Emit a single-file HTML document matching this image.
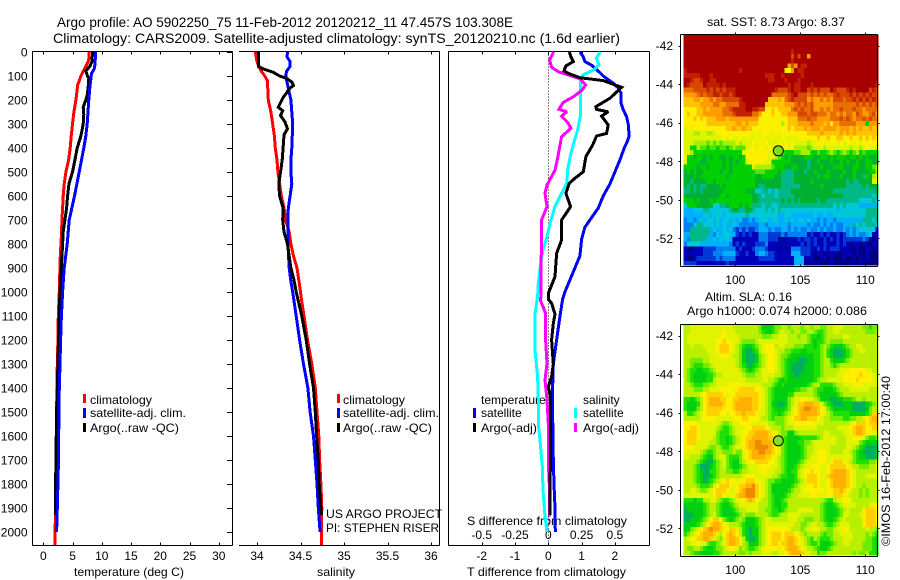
<!DOCTYPE html>
<html lang="en">
<head>
<meta charset="utf-8">
<title>Argo profile chart</title>
<style>
html,body{margin:0;padding:0;background:#fff;}
svg{display:block;}
text{font-family:"Liberation Sans",sans-serif;font-size:12px;fill:#000;}
</style>
</head>
<body>
<svg id="chart" xmlns="http://www.w3.org/2000/svg" width="900" height="580" viewBox="0 0 900 580">
<rect x="0" y="0" width="900" height="580" fill="#fff"/>
<text x="57" y="27" style="font-size:14px" textLength="456" lengthAdjust="spacingAndGlyphs">Argo profile: AO 5902250_75 11-Feb-2012 20120212_11 47.457S 103.308E</text>
<text x="53" y="43" style="font-size:14px" textLength="567" lengthAdjust="spacingAndGlyphs">Climatology: CARS2009. Satellite-adjusted climatology: synTS_20120210.nc (1.6d earlier)</text>
<text x="74" y="576" textLength="110" lengthAdjust="spacingAndGlyphs">temperature (deg C)</text>
<text x="317" y="576" textLength="38" lengthAdjust="spacingAndGlyphs">salinity</text>
<text x="467" y="576" textLength="159" lengthAdjust="spacingAndGlyphs">T difference from climatology</text>
<text x="467" y="525" textLength="160" lengthAdjust="spacingAndGlyphs">S difference from climatology</text>
<text x="326" y="518" textLength="116" lengthAdjust="spacingAndGlyphs">US ARGO PROJECT</text>
<text x="326" y="532" textLength="113" lengthAdjust="spacingAndGlyphs">PI: STEPHEN RISER</text>
<text x="707" y="26" textLength="138" lengthAdjust="spacingAndGlyphs">sat. SST: 8.73 Argo: 8.37</text>
<text x="705" y="301" textLength="87" lengthAdjust="spacingAndGlyphs">Altim. SLA: 0.16</text>
<text x="687" y="315" textLength="180" lengthAdjust="spacingAndGlyphs">Argo h1000: 0.074 h2000: 0.086</text>
<text transform="translate(890,546) rotate(-90)" textLength="170" lengthAdjust="spacingAndGlyphs">©IMOS 16-Feb-2012 17:00:40</text>
<rect x="83" y="394" width="3" height="9" fill="#ff0000"/>
<text x="90" y="404" textLength="62" lengthAdjust="spacingAndGlyphs">climatology</text>
<rect x="83" y="408" width="3" height="10" fill="#0000ff"/>
<text x="90" y="417" textLength="96" lengthAdjust="spacingAndGlyphs">satellite-adj. clim.</text>
<rect x="83" y="423" width="3" height="9" fill="#000"/>
<text x="90" y="432" textLength="89" lengthAdjust="spacingAndGlyphs">Argo(..raw -QC)</text>
<rect x="337" y="394" width="3" height="9" fill="#ff0000"/>
<text x="343" y="404" textLength="62" lengthAdjust="spacingAndGlyphs">climatology</text>
<rect x="337" y="408" width="3" height="10" fill="#0000ff"/>
<text x="343" y="417" textLength="96" lengthAdjust="spacingAndGlyphs">satellite-adj. clim.</text>
<rect x="337" y="423" width="3" height="9" fill="#000"/>
<text x="343" y="432" textLength="89" lengthAdjust="spacingAndGlyphs">Argo(..raw -QC)</text>
<text x="481" y="404">temperature</text>
<rect x="473" y="408" width="3" height="10" fill="#0000ff"/>
<text x="481" y="417">satellite</text>
<rect x="473" y="423" width="3" height="9" fill="#000"/>
<text x="481" y="432" textLength="56" lengthAdjust="spacingAndGlyphs">Argo(-adj)</text>
<text x="583" y="404">salinity</text>
<rect x="574" y="408" width="3" height="10" fill="#00ffff"/>
<text x="583" y="417">satellite</text>
<rect x="574" y="423" width="3" height="9" fill="#ff00ff"/>
<text x="583" y="432" textLength="56" lengthAdjust="spacingAndGlyphs">Argo(-adj)</text>
</svg>
<script>
/* ---------- depth / tick data ---------- */
const depthTicks = [0,100,200,300,400,500,600,700,800,900,1000,1100,1200,1300,1400,1500,1600,1700,1800,1900,2000];
const tempTicks = [0,5,10,15,20,25,30];
const salTicks = [34,34.5,35,35.5,36];
const tDiffTicks = [-2,-1,0,1,2];
const tDiffLabels = ['-2','-1','0','1','2'];
const sDiffTicks = [-0.5,-0.25,0,0.25,0.5];
const sDiffLabels = ['-0.5','-0.25','0','0.25','0.5'];
const lonTicks = [100,105,110];
const latTicks = [-42,-44,-46,-48,-50,-52];

/* ---------- temperature panel ---------- */
const tempClimDepth = [0,20,40,60,80,100,120,140,160,180,200,250,300,350,400,450,500,550,600,650,700,750,800,850,900,1000,1100,1200,1300,1500,1950,2054];
const tempClimValue = [7.84,7.84,7.67,7.27,6.82,6.42,6.14,5.85,5.78,5.68,5.57,5.23,5.0,4.77,4.6,4.32,3.86,3.58,3.41,3.3,3.18,3.13,3.01,2.9,2.84,2.73,2.56,2.5,2.39,2.27,2.05,2.0];
const tempArgoDepth = [0,40,60,80,100,110,146,180,200,230,260,300,350,400,450,500,550,600,650,700,750,800,900,1000,1100,1500,1800,1930];
const tempArgoValue = [8.4,8.35,7.95,7.27,7.56,7.78,7.67,7.5,7.27,6.82,6.93,6.82,6.42,5.8,5.4,5.0,4.38,4.15,3.98,3.7,3.41,3.3,3.07,2.84,2.73,2.27,2.1,2.1];
const tempSatDepth = [0,50,70,90,150,200,300,350,400,450,500,600,700,800,900,1000,1100,1200,1300,1400,1500,1700,1900,2000];
const tempSatValue = [8.92,8.86,8.7,8.24,7.95,7.78,7.5,7.27,6.93,6.53,6.14,5.34,4.43,4.09,3.58,3.3,3.1,2.95,2.85,2.73,2.67,2.6,2.39,2.27];

/* ---------- salinity panel ---------- */
const salClimDepth = [0,40,60,80,100,120,200,250,300,350,400,450,500,550,600,650,700,750,800,850,900,950,1000,1030,1100,1200,1300,1400,1500,1600,1700,1800,1900,2000,2054];
const salClimValue = [33.98,34.0,34.02,34.05,34.09,34.12,34.13,34.16,34.18,34.2,34.21,34.23,34.24,34.26,34.28,34.31,34.33,34.37,34.39,34.42,34.46,34.48,34.5,34.51,34.54,34.58,34.63,34.67,34.69,34.71,34.72,34.735,34.745,34.74,34.74];
const salArgoDepth = [0,40,60,70,85,100,110,125,140,150,170,190,230,245,265,290,320,345,400,450,500,550,600,650,700,750,800,900,950,1000,1100,1200,1300,1400,1500,1600,1700,1800,1900,1930];
const salArgoValue = [34.02,34.015,34.015,34.07,34.19,34.26,34.34,34.4,34.42,34.38,34.34,34.3,34.245,34.295,34.27,34.32,34.35,34.31,34.3,34.29,34.27,34.25,34.26,34.3,34.295,34.31,34.35,34.39,34.425,34.45,34.515,34.565,34.605,34.65,34.67,34.685,34.705,34.715,34.735,34.745];
const salSatDepth = [0,20,40,60,80,100,150,200,250,300,400,450,500,550,600,650,700,800,900,950,1000,1100,1200,1300,1400,1500,1600,1700,1800,1900,2000];
const salSatValue = [34.35,34.345,34.38,34.38,34.34,34.33,34.36,34.39,34.4,34.41,34.4,34.39,34.39,34.4,34.38,34.36,34.355,34.355,34.37,34.387,34.41,34.45,34.49,34.535,34.585,34.61,34.65,34.67,34.69,34.705,34.725];

/* ---------- difference panel ---------- */
const tDiffSatDepth = [0,20,40,55,80,100,130,150,170,210,240,270,300,350,380,400,450,500,550,600,650,700,730,780,850,900,950,1000,1030,1100,1200,1300,1400,1500,1700,1800,1900,2000];
const tDiffSatValue = [0.95,1.05,1.1,1.3,1.5,1.65,1.95,2.1,2.18,2.18,2.25,2.35,2.4,2.43,2.35,2.28,2.15,2.0,1.85,1.65,1.5,1.25,1.1,1.0,0.95,0.8,0.65,0.5,0.43,0.35,0.25,0.15,0.13,0.13,0.15,0.17,0.2,0.21];
const tDiffArgoDepth = [0,20,40,58,78,89,107,119,147,193,228,239,249,267,286,304,339,350,388,436,499,526,547,589,644,700,783,839,936,1006,1030,1047,1092,1131,1200,1300,1353,1395,1436,1686,1797,1930];
const tDiffArgoValue = [0.63,0.68,0.75,0.53,0.47,0.6,0.95,1.65,2.2,1.85,1.43,1.45,1.8,1.6,1.7,1.8,1.75,1.45,1.33,1.13,1.05,0.8,0.63,0.53,0.67,0.4,0.4,0.25,0.2,0,0,0.1,0.2,0.15,0.1,0.15,0.1,0,0.07,0.07,0.05,0.05];
const sDiffSatDepth = [0,26,54,75,96,117,186,269,325,381,422,492,547,589,644,700,769,825,894,964,1019,1089,1242,1353,1450,1547,1631,1728,1825,1936,2000];
const sDiffSatValue = [0.39,0.36,0.38,0.34,0.26,0.24,0.24,0.24,0.22,0.19,0.17,0.145,0.14,0.1,0.05,0.02,-0.01,-0.04,-0.06,-0.075,-0.08,-0.1,-0.1,-0.08,-0.075,-0.075,-0.06,-0.045,-0.04,-0.025,-0.01];
const sDiffArgoDepth = [0,33,64,82,96,112,138,161,186,211,239,249,267,297,318,353,381,443,492,554,589,644,700,797,881,1019,1033,1089,1200,1297,1367,1450,1547,1631,1714,1825,1936];
const sDiffArgoValue = [0.04,0.01,0.025,0.075,0.15,0.24,0.28,0.25,0.19,0.11,0.08,0.14,0.1,0.15,0.17,0.1,0.09,0.07,0.05,-0.01,-0.025,-0.01,-0.05,-0.05,-0.055,-0.055,-0.06,-0.02,-0.02,-0.01,-0.025,-0.01,0,0,0,0.01,0.01];

/* ---------- map markers ---------- */
const profileLon = [103.308];
const profileLat = [-47.457];

/* ---------- SST map: one string per row of level codes (a cold ... s warm), 0.25 degree cells ---------- */
const sstRows = [
"ssssssssss ssssssssss ssssssssss ssssssssss ssssssssss ssssssssss",
"ssssssssss ssssssssss ssssssssss ssssssssss ssssssssss ssssssssss",
"ssssssssss ssssssssss ssssssssss ssssssssss ssssssssss ssssssssss",
"ssssssssss ssssssssss ssssssssss sssrssssss ssssssssss ssssssssss",
"ssssssssss ssssssssss ssssssssss sssqsqssos ssssssssss ssssssssss",
"ssssssssss ssssssssss ssssssssss sssrssssss ssssssssss ssssssssss",
"ssssssssss ssssssssss ssssssssss ssoqosrrss ssssssssss ssssssssss",
"rsssssssss sssssssrss ssssssssss slmosrrsss ssssssssss ssssssssss",
"rrrrrsssrs ssssssssss sssssrrrss rsssssrsss ssssssssss ssssssssss",
"ssrqqrssrr ssssssssss ssssssrrss srsssrssss ssssssssss ssssssssss",
"srqqqqsrrr rsrsssssss ssssssssss ssrsrrsssr ssssssssss sssssssssr",
"pppqqqqrqr qrqrrrssss ssssssssrq qqrsrrssqr qrqqqsrqqq rsrssssqrq",
"oooopqpqqr rqrrqrssss sssssssppp ppqrsqqqpq pqpqppqrqq qrqrqrqrqq",
"nnnoonoopo ppqqqqqrss ssssssnnno npqrqqqqop oopopoqqqp qqrqrqrqrq",
"nnnnnoooop poopppprrs sssssnnnnn nooopqpqpq oooooopppp pppqpqpqpq",
"mmmmnnonoo ooppqrrrrs srrqqmmnmn nnnpqpqppq oopopoppqp ppqppopppp",
"mnmmnnoooo oopppqrrrr rppommmnmm nnoooqqqpq qpppoppopo ppoqpoopqo",
"mmmnmnmnnn ooonoooooo ooommmmmmm mmnnnpppqp poooopppqp qpoppqpqpp",
"mmmmmmmnnn nnnnnnoono nnnmmmmmmm kmnnnoooop ooonomoopp pppoooiooo",
"lmlmmmmmmm mmmnnonnon nmmmmmmmmm mmnmnnnono oonoooonoo onononnonn",
"lllkkllkkl mmmmmmmmmm mlmlmmmlml mmmmmmmmnn nnonnnnnon ononnnnnnn",
"llllllllll llmlmllmlm llmlmllmll mllllmmmmm mnmmnmmnnm mnmmnmnmnm",
"lllkkkkjkj kjkkkklkll lmlmlmlllm lmlmllllkl lmmlmmmlml mmlmlmmmmm",
"lliikjjijj ijjijkjjjl mmlmmlmlmm lmlmkkkkjk lllkllllll lkllklmlll",
"llkiiiiiii iiiiiiiilm mmmmmmllll jiiijjkkki ijiijkjijk jijkijiiii",
"miihiihihi ihhihiihim mmmmmmllkj ihihhhhiii hhiihihiii hiihihihhi",
"liiiihhiii iihihihiil mmmmmlliii iiihhhhhgh hihhhihhih ihhihhiihh",
"iiiihiihii iihihiiiii ilkkkkkjii ihhiihhhgh hhihhhiiih hhiihhiijk",
"hihihhiiii ihiihiiiii iijjjiiiih iggghhhghh ihhhihhhhi hhihhhhiik",
"hhhihiiiii iiihiiiiii iihhiiiihh gggghhhhhh hihiihhhih hhihhgihkl",
"hhghhhhiih iiiiiiiiii iihhhhhhhh gggghhhhhi hhhhhhhhhh ghgghhhhll",
"hghghgghhh hihiiiiiii iihgghhhhh gggggghhhh hhihhhhhhh ggggghghhh",
"gghghghhhh hhiiiiiiih hhffggfgfg ggghhhhhhh hhhhhhgggg gggggggggh",
"hhhhhhhhhh hiihiiiiii ihhgfgggfg gggghhhhhh hhhhhhhhhg ggggggggfg",
"iiihihhhih iiiiiiiiii ihhggggggg hghghghhhh hghhgggggg ggggffffgf",
"fiiihhhhhf fgghiiihih igggfggffg gggggggggg ggggggfgfg ffffeeeeee",
"eeefffggff ffffghhggh hgfffgfgfg ffffffffff fffffffeff ffffffgggg",
"eeeeeeffef ffeffffffg fffffffffe effeeeeeee feefeeffff ffffffgggg",
"deedefeffe feffefefdd edefffeffe efefeffefe ededeedeee eeeeegggfg",
"dddfggfffe fefeefeddd dddeedeeee eedeeeeede ddedededde eegfgfgggf",
"ddggggggef eefefdcdcd ccdeeededd eedededded dededdedde dedefffffb",
"eegggggged feffeecbcb cbbdddcccc dcddddddbc bbcbcbbcbc dededdefbb",
"edgggggeef efefebbbbb bbbdddcccb abbbbcbccb cbbcbcbcbc cccccdcbab",
"dffffeeeee eeeedbcbcb bbcccdbbbb bbbbbbcbcb cbbcbbbcbc babbabaaba",
"baabbbcccc ddddddbcbb bcdddcbbba babdddcccb bcbcbcccbb baabaabbab",
"bbbbbbcccd ddeeeecbbc bbdeedccbb bbbeeecccb abbabbbaab bbabaabaaa",
"baabcccccc dcddddbbbb bbbcccccbb bbbbeeebbb aabbabaaab aabababaaa",
"ccccbbbbbb bbbcbbbbbb bbbbbbbbbb bbbbeeeaab abaaabaaaa abaabaaaaa"
];

/* ---------- SLA map: same coding ---------- */
const slaRows = [
"kkllllllll lllllkkkkk kkkjhhhijj kkjkkkjkkj kkjjkklllk kkkkkjjijj",
"kkllllllll llmlllkkkk kkkjihhijk lkkjkkjjkk jiijkkllkk kkkkkkjjjk",
"klllllllll lmmllllkkk kkkkjjjkkl llkkkjkkji ihijkkkkkl lkkkkkkkkk",
"klllllllll mmnmmllkjj jjklllllll llkkkkkkji hiijkjjjjk kkkkkkkkkk",
"kklkkkllll mnnnmlkjih hijklmmmkl lkkkjjjiii hijkjihhhi jkkllkkkkk",
"kkkkkkklll mnnnmlkjhg ghiklmmmlk kjjiiihhii iijkihgggh ijkkllkkkk",
"kkkkkkkkll lmmmlkkjhg gghjklmmlk jjihhhhhhh iijkihgggh ijkkkkkkkk",
"kkjjjjkkll llllllkjhg gghjklmmlk jihhhggghh iijkkihhhi jkkkkkkkkk",
"kkjiiijjkl llllllkjih ghijklmmlk jihgggghhh iijkkjijkk kkkkkkkkkk",
"kjiihhiijk lllllllkji hijkllmmlk jihgggghhh iijkkkkkll lmmmmmllkk",
"kjihhhhiij kkllllllkj jjkkllllkk jihhgghhhh iijkkkkllm mmmmnmmmlk",
"kjihhhhiik lllllllllk kkkkllkkji hihhhhhhhh ijkklllllm mmmnmmmmll",
"kkjiiijjkk llllmmmmll llllkkkjih ihhhhhhhij kkiiiijkkl llmmmlllll",
"kkkjjjkkll lmmmmlmnnn nnmmlkjihh hhhhiijjkk jiihhhijkk kllllllkkk",
"kkkkklmnnn nnmlmmnnnn nnnmlkjihh hhiikkkkkk jihhhhhijk kkkkkkkkkk",
"iihijkmnoo onnmmnnooo onnmlkjihh hhjkllmmll kjhhhgghhi iijkkjkkkk",
"ihhhikmnoo oonmmnoooo onnmlkjhhg ghjklnnooo nnljihgggh hhgggghijk",
"ihhhjkmnnn nnmmmnoooo onnmlkjihh hijlmnoppo onmljihhhh hhgggghjkk",
"kiijklmnnn nmmlmmnnon nnmllkjiih ijklmnoooo onmlkjiiii ihhhhhijnn",
"kkkkklmmmm lllllmmmnn mmmlkkjijj jklmnnoonn nmlkkjjjji ijjkklmnoo",
"mmmmllllll lkjjkllmmm mlllllkkjj jkllmmmmmm lllkkkkkkk klmnnnmnno",
"mmnnmlllll kjiijklllm mnnnnmlkkk jkkkllllll lkkkkkklll lmnoonmmnn",
"mnnnmlllll jiiijkllmm nnoooonmlk jjhhjkkkkk kkkllkkkkl lmnoonmmll",
"mnnnmllllk jiihijklmn nooooonnlk jihhhhiiii ijkllllkkk llmmmljiij",
"mnnnllllkk jiihijklmn ooppooonlk jihhhiijjk lllllllkkk lllljihhhh",
"mmmllllkjj kjiijkllmn oopppponml jihhhhijkk lllllkkkkk llkjihgggg",
"lllllkjiij kkjjjkjjlm nooppoonml jihhhhijkk lmmmlkkkkl lkjihggggh",
"llkkkjihhj klljiiijlm noooonnmlk jihhhhijkl lmmmllllll lljihhgggh",
"kkkkjihggi jkljihhjkl mmnnnnmmlk jihhhijkll lmmmlmnnnm lkjiiiijjk",
"kkkjiggghi jkljihhijk lllmmmmllk jihhijkllm mmllmnnnnn mlkkjjjkkl",
"kkkjihggii jkkjjiijkk llllmlllkk jihiiklmmn mmllmnoooo nmlkkkkkkl",
"kkkjihgghi jkkkkkkklm mmlllllkkj iihhiklmnn nmllnooooo nmlkkkllll",
"kkkjihghij klmnmmlmmn nnmllkjjii hhhhijklnn nmllmnoooo nmlkkkkkkk",
"kkkkjiiijl mnnnmlmnno opnmlkjhhh hhhijkllmm nmllmnoooo nmlkkjkkkk",
"kkllkjjklm nnnmllmnop ppnmlkjhhh hhijkklmmm mmmlmmnnon mlkkjkjkkk",
"lllllllllm nnmllmnoop ppnmlkjihh hijkkllllm mlllmmnnnm lkkkjkjkkk",
"iiihiikkll kjiijkllmn onmlkkjihh ijkkkkkkkk kkkjiikllm mlkkkkkkkk",
"hhhhhhijkk jihhijklll lllkkkjihh iikkkkkkkk kkjihhijkl lllkkkkllm",
"ghhhhhijkk jihhhijkkl lllkkjjiih ijkkklllll kkjihhhijk lkkkkmnnnm",
"ggghhhijkl jihhhhijkj jjkkkkjiij kkllllkkkk kkjihhhijl lkkklmnnnm",
"gghhhijkmn nmjihijkjh hhijkllkkk kklllkkjjj kkjihhijkl kkkkkmnnnm",
"hhhhijkmno onmlkkkjih hhijklllll llllkkjjkl lkkjiijkll lkkkkmnnnl",
"hhjklmnopo onlmnnlkih ghhjklmmmm mmlkkkjkll mlkkjjkllm mkkkkklkkj",
"ijklmnooon lkmnonmkih ghhjklmnnn mnnnmlkjkk kkjijjkkll llkkkkjkji",
"klmmnnoonl kjlnoonmkh gghjklmnnn mnoonmlkji kjiiijkkkl llkkkkjjih",
"kkllmlljii jklnoonmkj hhhjklmnnm nnoonmlkji ijhhhijkkl lkkkkjjjih",
"kjjkkjihhi jjklmmljkj iijklmmmml mnooonmlkk jihhijkkkk kkkkkjjjih",
"kkjiihhhhi ijkkkkkjjk jkkklllkkl lmnooonllk kijjkkkkkk kkjkjjkiih"
];

/* ---------- scales ---------- */
const sstColor = {a:'#000080',b:'#0000b8',c:'#0038d8',d:'#0080f0',e:'#00b0ff',f:'#00c8d8',g:'#00b888',h:'#00b030',i:'#00d000',j:'#50e400',k:'#a8f000',l:'#e0f400',m:'#fff000',n:'#ffc400',o:'#ff9c00',p:'#e87000',q:'#d84800',r:'#c02000',s:'#a80000'};
const slaColor = {g:'#00b060',h:'#00d010',i:'#20e000',j:'#70ec00',k:'#b8f000',l:'#e0f400',m:'#fff000',n:'#ffd000',o:'#ffb000',p:'#f08800'};
function depthY(z){return 52+0.24*z;}
function tempX(v){return 43.3+5.85*v;}
function salX(v){return 257+87*(v-34);}
function tDiffX(v){return 548.3+33.3*v;}
function sDiffX(v){return 548.3+133.2*v;}
function lonX(v){return 735.3+13*(v-100);}
function latY(v,originY){return originY+19.26*(-42-v);}

const svg = document.getElementById('chart');
const NS = 'http://www.w3.org/2000/svg';
function make(tag,attrs,parent){
  const el = document.createElementNS(NS,tag);
  for(const k in attrs){el.setAttribute(k,attrs[k]);}
  (parent||svg).appendChild(el);
  return el;
}
function segment(x1,y1,x2,y2,name,dash){
  const el = make('line',{x1:x1,y1:y1,x2:x2,y2:y2,stroke:'#000','stroke-width':1,'shape-rendering':'crispEdges'});
  if(dash){el.setAttribute('stroke-dasharray',dash);}
  
  
  return el;
}
function label(x,y,str,anchor,name){
  const el = make('text',{x:x,y:y,'text-anchor':anchor});
  el.textContent = str;
  
  
  return el;
}
function series(xs,zs,xf,color,name){
  const pts = xs.map(function(v,i){return xf(v).toFixed(1)+','+depthY(zs[i]).toFixed(1);}).join(' ');
  const el = make('polyline',{points:pts,fill:'none',stroke:color,'stroke-width':3,'stroke-linejoin':'miter','stroke-miterlimit':2,'shape-rendering':'crispEdges'});
  
  
  return el;
}

/* ---------- profile panels ---------- */
const plotTop = 51.5, plotBottom = 545.5;

/* temperature */
segment(32.5,plotTop,232.5,plotTop,'temperature-axis-top');
segment(32.5,plotBottom,232.5,plotBottom,'temperature-axis-bottom');
segment(32.5,plotTop,32.5,plotBottom,'temperature-axis-left');
segment(232.5,plotTop,232.5,plotBottom,'temperature-axis-right');
depthTicks.forEach(function(z){
  const y = Math.round(depthY(z))+0.5;
  segment(227,y,232,y,'depth-tick-mark');
  label(27.5,depthY(z)+4.5,String(z),'end','depth-tick-label');
});
tempTicks.forEach(function(t){
  const x = Math.round(tempX(t))+0.5;
  segment(x,plotTop,x,plotTop+3,'temperature-top-tick');
  segment(x,plotBottom-3,x,plotBottom,'temperature-bottom-tick');
  label(tempX(t),560,String(t),'middle','temperature-tick-label');
});
series(tempClimValue,tempClimDepth,tempX,'#ff0000','temperature-climatology-line');
series(tempArgoValue,tempArgoDepth,tempX,'#000000','temperature-argo-line');
series(tempSatValue,tempSatDepth,tempX,'#0000ff','temperature-satellite-line');

/* salinity */
segment(239,plotTop,439.5,plotTop,'salinity-axis-top');
segment(239,plotBottom,439.5,plotBottom,'salinity-axis-bottom');
segment(439.5,plotTop,439.5,plotBottom,'salinity-axis-right');
salTicks.forEach(function(s){
  const x = Math.round(salX(s))+0.5;
  segment(x,plotTop,x,plotTop+3,'salinity-top-tick');
  segment(x,plotBottom-3,x,plotBottom,'salinity-bottom-tick');
  label(salX(s),560,String(s),'middle','salinity-tick-label');
});
series(salClimValue,salClimDepth,salX,'#ff0000','salinity-climatology-line');
series(salSatValue,salSatDepth,salX,'#0000ff','salinity-satellite-line');
series(salArgoValue,salArgoDepth,salX,'#000000','salinity-argo-line');

/* differences */
segment(448.5,plotTop,649.5,plotTop,'difference-axis-top');
segment(448.5,plotBottom,649.5,plotBottom,'difference-axis-bottom');
segment(448.5,plotTop,448.5,plotBottom,'difference-axis-left');
segment(649.5,plotTop,649.5,plotBottom,'difference-axis-right');
segment(548.5,plotTop,548.5,plotBottom-4,'zero-difference-line','1 2');
tDiffTicks.forEach(function(t,i){
  const x = Math.round(tDiffX(t))+0.5;
  segment(x,plotTop,x,plotTop+3,'t-difference-top-tick');
  segment(x,plotBottom-3,x,plotBottom,'t-difference-bottom-tick');
  label(tDiffX(t),560,tDiffLabels[i],'middle','t-difference-tick-label');
});
sDiffTicks.forEach(function(s,i){
  label(sDiffX(s),539,sDiffLabels[i],'middle','s-difference-tick-label');
});
series(tDiffSatValue,tDiffSatDepth,tDiffX,'#0000ff','t-difference-satellite-line');
series(sDiffSatValue,sDiffSatDepth,sDiffX,'#00ffff','s-difference-satellite-line');
series(sDiffArgoValue,sDiffArgoDepth,sDiffX,'#ff00ff','s-difference-argo-line');
series(tDiffArgoValue,tDiffArgoDepth,tDiffX,'#000000','t-difference-argo-line');

/* ---------- maps ---------- */
function drawMap(rows,palette,originY,boxTop,boxBottom,name){
  const group = make('g',{'shape-rendering':'crispEdges'});
  
  
  const lonStart = 96.03, latStart = -41.42, step = 0.25;
  rows.forEach(function(rowStr,r){
    const row = rowStr.replace(/ /g,'');
    for(let c=0;c<row.length;c++){
      const x0 = lonX(lonStart+c*step), x1 = lonX(lonStart+(c+1)*step);
      const y0 = latY(latStart-r*step,originY), y1 = latY(latStart-(r+1)*step,originY);
      const cell = make('rect',{x:x0.toFixed(2),y:y0.toFixed(2),width:(x1-x0).toFixed(2),height:(y1-y0).toFixed(2),fill:palette[row[c]]},group);
      
      
    }
  });
  const left = 680.5, right = 877.5;
  segment(left,boxTop,right,boxTop,name+'-map-axis-top');
  segment(left,boxBottom,right,boxBottom,name+'-map-axis-bottom');
  segment(left,boxTop,left,boxBottom,name+'-map-axis-left');
  segment(right,boxTop,right,boxBottom,name+'-map-axis-right');
  lonTicks.forEach(function(v){
    const x = Math.round(lonX(v))+0.5;
    segment(x,boxTop-2,x,boxTop,name+'-map-top-tick');
    segment(x,boxBottom-2,x,boxBottom,name+'-map-bottom-tick');
    label(lonX(v),boxBottom+17.5,String(v),'middle',name+'-map-longitude-label');
  });
  latTicks.forEach(function(v){
    const y = Math.round(latY(v,originY))+0.5;
    segment(left-2,y,left,y,name+'-map-left-tick');
    segment(right,y,right+2,y,name+'-map-right-tick');
    label(673,latY(v,originY)+4.5,String(v),'end',name+'-map-latitude-label');
  });
  const marker = make('circle',{cx:lonX(profileLon[0]),cy:latY(profileLat[0],originY),r:5,fill:'#80e020',stroke:'#000','stroke-width':1});
  
  
}
drawMap(sstRows,sstColor,45.7,34.5,266.5,'sst');
drawMap(slaRows,slaColor,335.7,324.5,556.5,'sla');
</script>
</body>
</html>
